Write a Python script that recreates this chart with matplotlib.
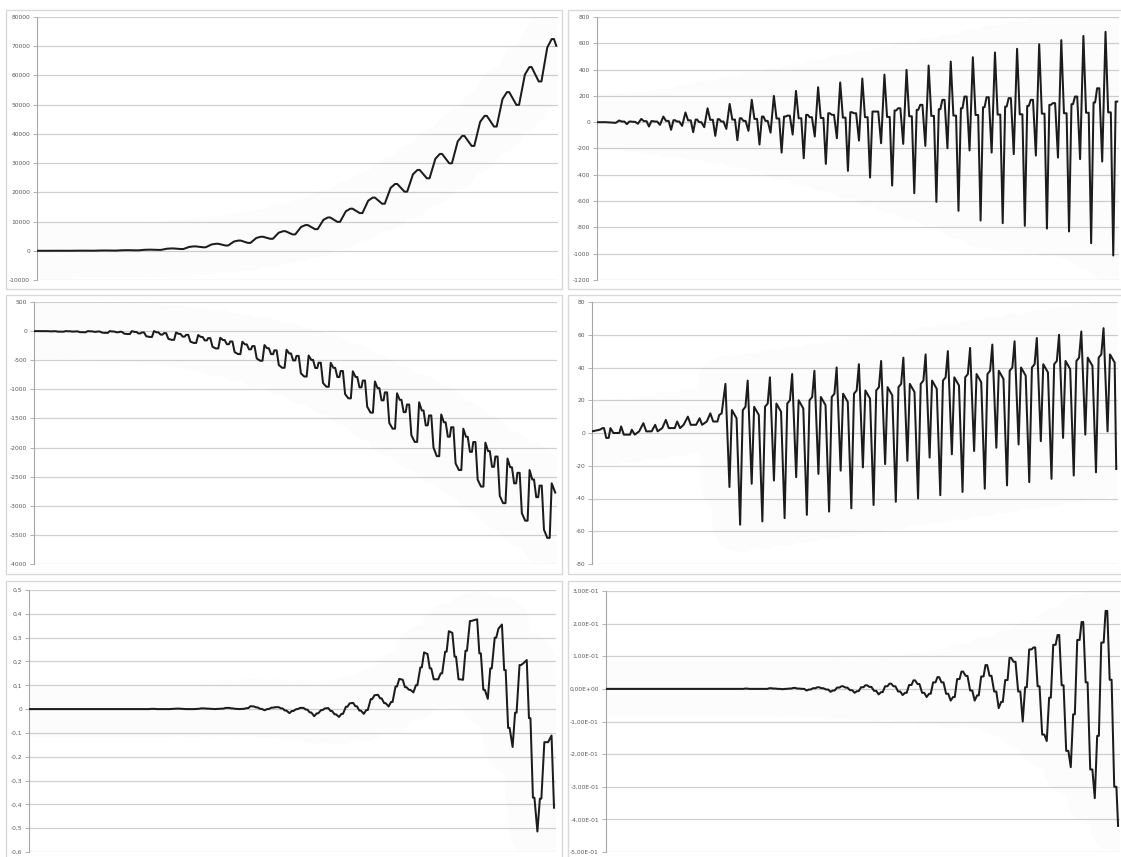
import numpy as np
import matplotlib
matplotlib.use('Agg')
import matplotlib.pyplot as plt
from matplotlib.patches import Rectangle
from matplotlib.ticker import FuncFormatter

# ---- values, one entry per seasonal cycle ----

# top left: growing curve (cycle highs, lows after each high, point on the climb)
tl_peak = [0, 10, 40, 100, 200, 380, 800, 1500, 2400, 3500, 4800, 6700, 8800, 11400,
           14400, 18200, 22860, 27660, 33140, 39310, 46170, 54290, 62860, 72460]
tl_low = [0, 5, 25, 70, 150, 300, 600, 1200, 1800, 2700, 4100, 5600, 7400, 9900,
          12900, 16100, 20230, 24800, 29940, 35890, 42510, 49940, 57940]
tl_rise = [8, 33, 85, 174, 334, 700, 1320, 2160, 3160, 4380, 6180, 8160, 10600, 13500,
           17140, 21510, 26170, 31470, 37440, 44110, 51930, 60280, 69560]
tl_last = 70170

# top right: spikes
tr_peak = [13, 25, 43, 74, 106, 139, 170, 200, 238, 266, 302, 332, 362, 398, 431,
           461, 494, 530, 558, 593, 624, 656, 687]
tr_post = [5, 8, 10, 14, 18, 20, 25, 28, 30, 32, 35, 38, 40, 45, 48, 50, 55, 58,
           60, 65, 68, 72, 75]
tr_trough = [-15, -33, -58, -76, -104, -137, -170, -231, -274, -317, -370, -421, -482,
             -540, -606, -674, -748, -768, -788, -809, -831, -920, -1014]
tr_sh1 = [5, 8, 15, 20, 23, 30, 43, 43, 56, 68, 76, 81, 89, 94, 99, 106, 114, 119,
          124, 132, 137, 150, 157]
tr_sh2 = [3, 5, 5, 0, 5, 10, 10, 50, 38, 56, 68, 81, 106, 132, 170, 195, 190, 183,
          170, 145, 195, 258]
tr_sec = [-12, -20, -28, -38, -51, -66, -79, -94, -109, -122, -140, -160, -165, -180,
          -198, -215, -231, -243, -254, -269, -281, -299]
tr_head_x = [0, 0.4, 0.85]
tr_head_y = [0, 0, -5]
tr_last = 157

# middle left: falling curve
ml_peak = [0, 0, 0, 0, 0, 0, -23, -68, -114, -183, -240, -320, -420, -545, -690, -865,
           -1068, -1222, -1432, -1676, -1915, -2188, -2386, -2614]
ml_step = [-1, -3, -4, -7, -14, -21, -48, -100, -153, -228, -295, -384, -495, -630, -787,
           -979, -1180, -1363, -1566, -1815, -2061, -2338, -2549]
ml_dip = [-4, -8, -12, -20, -40, -60, -95, -160, -226, -313, -396, -504, -634, -789, -966,
          -1189, -1392, -1619, -1814, -2074, -2331, -2615, -2852]
ml_bump = [-2, -5, -7, -12, -23, -35, -64, -121, -178, -258, -330, -426, -543, -685, -849,
           -1052, -1261, -1449, -1651, -1905, -2154, -2434, -2654]
ml_drop = [-9, -18, -26, -44, -88, -132, -181, -270, -360, -469, -583, -725, -891, -1082,
           -1297, -1579, -1790, -2000, -2272, -2551, -2830, -3128, -3411]
ml_low = [-10, -20, -30, -50, -100, -150, -203, -298, -394, -508, -630, -780, -955, -1155,
          -1400, -1676, -1903, -2148, -2386, -2670, -2955, -3256, -3551]
ml_last = -2773

# middle right: small start, then regular double swings
mr_head_x = [0, 0.35, 0.48, 0.54, 0.64, 0.75, 0.83, 0.96, 1.23, 1.31, 1.43, 1.71, 1.79,
             1.92, 2.12, 2.31, 2.44, 2.68, 2.84, 2.95, 3.16, 3.32, 3.45, 3.72, 3.83, 3.96,
             4.12, 4.31, 4.44, 4.68, 4.84, 4.95, 5.16, 5.32, 5.45, 5.64, 5.72, 5.83]
mr_head_y = [1, 2, 3, 3, -3, -3, 3, 0, 0, 4, -1, -1, 2, -1, 1, 6, 1, 1, 5, 1, 3, 8, 3, 3,
             7, 3, 5, 10, 5, 5, 9, 5, 7, 12, 7, 7, 11, 12]
mr_peak = [30, 32, 34, 36, 38, 40, 42, 44, 46, 48, 50, 52, 54, 56, 58, 60, 62, 64]
mr_mid = [-33, -31, -29, -27, -25, -23, -21, -19, -17, -15, -13, -11, -9, -7, -5, -3, -1, 1]
mr_sh_hi = [14, 16, 18, 20, 22, 24, 26, 28, 30, 32, 34, 36, 38, 40, 42, 44, 46, 48]
mr_sh_lo = [9, 11, 13, 15, 17, 19, 21, 23, 25, 27, 29, 31, 33, 35, 37, 39, 41, 43]
mr_low = [-56, -54, -52, -50, -48, -46, -44, -42, -40, -38, -36, -34, -32, -30, -28, -26, -24]
mr_pre1 = [14, 16, 18, 20, 22, 24, 26, 28, 30, 32, 34, 36, 38, 40, 42, 44, 46]
mr_pre2 = [16, 18, 20, 22, 24, 26, 28, 30, 32, 34, 36, 38, 40, 42, 44, 46, 48]
mr_last = -22

# bottom left
bl_pk_a = [0, 0, 0, 0, 0, 0.001, 0.002, 0.003, 0.005, 0.012, 0.008, 0.005, 0.003, 0.024,
           0.058, 0.127, 0.238, 0.327, 0.373, 0.338, 0.192, -0.139]
bl_pk_b = [0, 0, 0, 0, 0, 0.001, 0.002, 0.003, 0.005, 0.011, 0.008, 0.005, 0.004, 0.026,
           0.06, 0.123, 0.231, 0.32, 0.377, 0.355, 0.206, -0.111]
bl_d1 = [0, 0, 0, 0, 0, 0, 0.001, 0.002, 0.003, 0.007, 0.003, -0.002, -0.008, 0.012,
         0.045, 0.092, 0.171, 0.22, 0.234, 0.164, -0.038]
bl_d2 = [0, 0, 0, 0, 0, 0, 0, 0.001, 0.001, 0.001, -0.006, -0.014, -0.022, -0.006, 0.025,
         0.081, 0.125, 0.125, 0.081, -0.079, -0.372]
bl_tr = [0, 0, 0, 0, 0, 0, 0, 0, 0, -0.005, -0.017, -0.03, -0.033, -0.02, 0.011, 0.07,
         0.125, 0.123, 0.043, -0.159, -0.514]
bl_u1 = [0, 0, 0, 0, 0, 0, 0, 0.001, 0.001, 0.0, -0.008, -0.018, -0.02, -0.004, 0.03, 0.10,
         0.15, 0.245, 0.171, -0.015, -0.376]
bl_u2 = [0, 0, 0, 0, 0, 0.001, 0.001, 0.002, 0.004, 0.006, 0.0, -0.004, 0.01, 0.042, 0.095,
         0.175, 0.241, 0.37, 0.30, 0.185, -0.139]
bl_last = -0.414

# bottom right
br_pa = [0, 0, 0, 0, 0, 0, 0, 0.001, 0.002, 0.004, 0.005, 0.008, 0.012, 0.02, 0.03, 0.038,
         0.027, 0.121, 0.135, 0.15, 0.142]
br_pk = [0, 0, 0, 0, 0, 0.001, 0.002, 0.003, 0.005, 0.008, 0.011, 0.016, 0.026, 0.036,
         0.053, 0.073, 0.095, 0.127, 0.165, 0.205, 0.239]
br_dn = [0, 0, 0, 0, 0, 0, 0.001, 0.001, 0.002, 0.004, 0.006, 0.008, 0.015, 0.02, 0.04,
         0.04, 0.083, 0.008, 0.011, 0.02, 0.028]
br_ta = [0, 0, 0, 0, 0, 0, 0, 0, -0.002, -0.004, -0.006, -0.008, -0.012, -0.015, -0.005,
         -0.008, -0.008, -0.14, -0.19, -0.247, -0.3]
br_tm = [0, 0, 0, 0, 0, 0, -0.001, -0.005, -0.009, -0.012, -0.017, -0.019, -0.025, -0.036,
         -0.036, -0.059, -0.1, -0.16, -0.24, -0.335]
br_up = [0, 0, 0, 0, 0, 0, 0, -0.002, -0.005, -0.007, -0.01, -0.012, -0.015, -0.025, -0.02,
         -0.04, 0.005, -0.027, -0.078, -0.144]
br_last = -0.42


def trace(first, template, x_end, y_end, head_x=(), head_y=()):
    # walk the cycles, placing each listed value at its phase inside the cycle
    xs, ys = list(head_x), list(head_y)
    for i in range(len(template[0][1])):
        for phase, col in template:
            x = first + i + phase
            if i >= len(col) or x >= x_end:
                break
            xs.append(x)
            ys.append(col[i])
    xs.append(x_end)
    ys.append(y_end)
    return xs, ys


W, H = 1121, 857
fig = plt.figure(figsize=(W / 100, H / 100), dpi=100)
fig.patch.set_facecolor('white')


def panel(frame, box, ticks, fmt, data, x_end):
    fl, ft, fr, fb = frame
    fig.add_artist(Rectangle((fl / W, 1 - fb / H), (fr - fl) / W, (fb - ft) / H,
                             transform=fig.transFigure, fill=False,
                             ec='#d9d9d9', lw=1.0))
    l, t, r, b = box
    ax = fig.add_axes([l / W, 1 - b / H, (r - l) / W, (b - t) / H])
    ax.set_facecolor('none')
    xs, ys = data
    # faint soft shadow behind the curve, as in the screenshot
    ax.plot(xs, ys, color='black', alpha=0.012, lw=40, zorder=1,
            solid_joinstyle='round', solid_capstyle='round')
    ax.plot(xs, ys, color='#1c1c1c', lw=1.45, zorder=3, solid_joinstyle='round')
    ax.set_xlim(0, x_end + 0.08)
    ax.set_ylim(ticks[0], ticks[-1])
    ax.set_yticks(ticks)
    ax.yaxis.set_major_formatter(FuncFormatter(fmt))
    ax.set_xticks([])
    ax.grid(axis='y', color='#d0d0d0', lw=0.9)
    ax.set_axisbelow(True)
    for s in ['top', 'right', 'bottom']:
        ax.spines[s].set_visible(False)
    ax.spines['left'].set_color('#a6a6a6')
    ax.spines['left'].set_linewidth(0.8)
    ax.tick_params(axis='y', length=3, width=0.6, color='#a6a6a6',
                   labelsize=4.3, labelcolor='#595959', pad=2)
    return ax


def plain(v, p):
    return f"{v:.0f}"


def comma1(v, p):
    return '0' if abs(v) < 1e-9 else f"{v:.1f}".replace('.', ',')


def sci(v, p):
    return f"{0.0 if abs(v) < 1e-12 else v:.2E}".replace('.', ',')


tl = trace(0, [(0, tl_peak), (0.1, tl_peak), (0.42, tl_low), (0.54, tl_low),
               (0.8, tl_rise)], 23.2, tl_last)
tr = trace(1, [(0, tr_peak), (0.12, tr_post), (0.24, tr_post), (0.35, tr_trough),
               (0.46, tr_sh1), (0.53, tr_sh1), (0.62, tr_sh2), (0.72, tr_sh2),
               (0.85, tr_sec)], 23.53, tr_last, tr_head_x, tr_head_y)
ml = trace(0.43, [(0, ml_peak), (0.12, ml_step), (0.2, ml_step), (0.3, ml_dip),
                  (0.39, ml_dip), (0.45, ml_bump), (0.55, ml_bump), (0.65, ml_drop),
                  (0.8, ml_low), (0.91, ml_low)], 23.59, ml_last, [0], [0])
mr = trace(6, [(0, mr_peak), (0.18, mr_mid), (0.29, mr_sh_hi), (0.5, mr_sh_lo),
               (0.66, mr_low), (0.78, mr_pre1), (0.9, mr_pre2)], 23.57, mr_last,
           mr_head_x, mr_head_y)
bl = trace(0, [(-0.07, bl_pk_a), (0.07, bl_pk_b), (0.16, bl_d1), (0.22, bl_d1),
               (0.32, bl_d2), (0.38, bl_d2), (0.5, bl_tr), (0.6, bl_u1), (0.66, bl_u1),
               (0.78, bl_u2), (0.84, bl_u2)], 21.17, bl_last)
br = trace(0.8, [(-0.18, br_pa), (-0.08, br_pa), (0, br_pk), (0.07, br_pk),
                 (0.17, br_dn), (0.25, br_dn), (0.36, br_ta), (0.45, br_ta),
                 (0.55, br_tm), (0.65, br_up), (0.72, br_up)], 21.32, br_last,
           [0], [0])

panel((6, 10, 562, 289), (37, 17, 558, 280), np.arange(-10000, 80001, 10000), plain, tl, 23.2)
panel((568, 10, 1128, 289), (597, 17, 1119, 280), np.arange(-1200, 801, 200), plain, tr, 23.53)
panel((6, 295, 562, 574), (34, 302, 557, 564), np.arange(-4000, 501, 500), plain, ml, 23.59)
panel((568, 295, 1128, 574), (592, 302, 1118, 564), np.arange(-80, 81, 20), plain, mr, 23.57)
panel((6, 581, 562, 866), (29, 590, 556, 852), np.round(np.arange(-0.6, 0.51, 0.1), 1),
      comma1, bl, 21.17)
panel((568, 581, 1128, 866), (606, 591, 1120, 852), np.round(np.arange(-0.5, 0.31, 0.1), 1),
      sci, br, 21.32)

fig.savefig('out.png', dpi=100, facecolor='white')
